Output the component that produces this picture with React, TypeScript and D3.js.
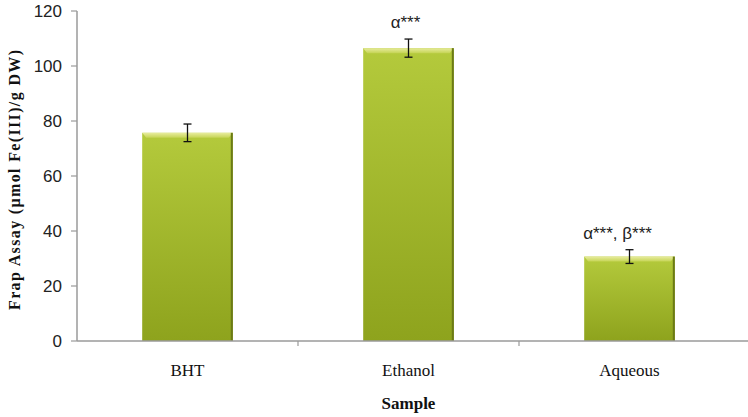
import React from "react";
import * as d3 from "d3";

const categories = ["BHT", "Ethanol", "Aqueous"];
const values = [75.7, 106.5, 30.7];
const errors = [3.2, 3.3, 2.5];
const annotations = ["", "α***", "α***, β***"];
const yTicks = [0, 20, 40, 60, 80, 100, 120];

const W = 748, H = 417;
const m = { left: 77, right: 8, top: 11, bottom: 76 };

export default function App() {
  const x = d3.scaleBand().domain(categories).range([m.left, 740]).paddingInner(0).paddingOuter(0);
  const y = d3.scaleLinear().domain([0, 120]).range([H - m.bottom, m.top]);
  const bw = x.bandwidth() * 0.41;
  const serif = "'Liberation Serif', 'Times New Roman', serif";
  const sans = "'Liberation Sans', Arial, sans-serif";
  return (
    <svg width={W} height={H} style={{ position: "absolute", left: 0, top: 0, background: "#fff" }}>
      <defs>
        <linearGradient id="barg" x1="0" y1="0" x2="0" y2="1">
          <stop offset="0" stopColor="#b4ca3c" />
          <stop offset="1" stopColor="#8ea31d" />
        </linearGradient>
        <linearGradient id="bevel" x1="0" y1="0" x2="0" y2="1">
          <stop offset="0" stopColor="#e8ec9e" />
          <stop offset="1" stopColor="#c5d455" />
        </linearGradient>
      </defs>
      {/* y axis */}
      <line x1={m.left} x2={m.left} y1={y(120)} y2={y(0)} stroke="#9a9a9a" strokeWidth={1.5} />
      {yTicks.map((t) => (
        <g key={t}>
          <line x1={m.left - 6} x2={m.left} y1={y(t)} y2={y(t)} stroke="#9a9a9a" strokeWidth={1.2} />
          <text x={m.left - 15} y={y(t)} dy="0.36em" textAnchor="end" fontFamily={sans} fontSize={17} fill="#222">{t}</text>
        </g>
      ))}
      {/* bars */}
      {categories.map((c, i) => {
        const cx = x(c)! + x.bandwidth() / 2;
        const x0 = cx - bw / 2;
        const top = y(values[i]);
        const bot = y(0);
        const shift = i === 2 ? -12 : i === 1 ? -3 : 0;
        return (
          <g key={c}>
            <rect x={x0} y={top} width={bw} height={bot - top} fill="url(#barg)" />
            <polygon points={`${x0},${top} ${x0 + bw},${top} ${x0 + bw - 4},${top + 5} ${x0 + 4},${top + 5}`} fill="url(#bevel)" />
            <rect x={x0 + bw - 2} y={top} width={2} height={bot - top} fill="#6b7a16" />
            <line x1={cx} x2={cx} y1={y(values[i] + errors[i])} y2={y(values[i] - errors[i])} stroke="#111" strokeWidth={1.3} />
            <line x1={cx - 4} x2={cx + 4} y1={y(values[i] + errors[i])} y2={y(values[i] + errors[i])} stroke="#111" strokeWidth={1.3} />
            <line x1={cx - 4} x2={cx + 4} y1={y(values[i] - errors[i])} y2={y(values[i] - errors[i])} stroke="#111" strokeWidth={1.3} />
            {annotations[i] && (
              <text x={cx + shift} y={y(values[i] + errors[i]) - 11} textAnchor="middle" fontFamily={sans} fontSize={17} fill="#222">{annotations[i]}</text>
            )}
            <text x={cx} y={376} textAnchor="middle" fontFamily={serif} fontSize={17} fill="#111">{c}</text>
          </g>
        );
      })}
      {/* x axis */}
      <line x1={m.left} x2={W} y1={y(0)} y2={y(0)} stroke="#9a9a9a" strokeWidth={1.5} />
      {categories.slice(1).map((c) => (
        <line key={c} x1={x(c)!} x2={x(c)!} y1={y(0)} y2={y(0) + 5} stroke="#9a9a9a" strokeWidth={1.2} />
      ))}
      <text x={x("Ethanol")! + x.bandwidth() / 2} y={409} textAnchor="middle" fontFamily={serif} fontWeight="bold" fontSize={17} fill="#111">Sample</text>
      <text transform={`translate(20,180) rotate(-90)`} textAnchor="middle" fontFamily={serif} fontWeight="bold" fontSize={16} textLength={260} lengthAdjust="spacing" fill="#111">Frap Assay (μmol Fe(III)/g DW)</text>
    </svg>
  );
}
